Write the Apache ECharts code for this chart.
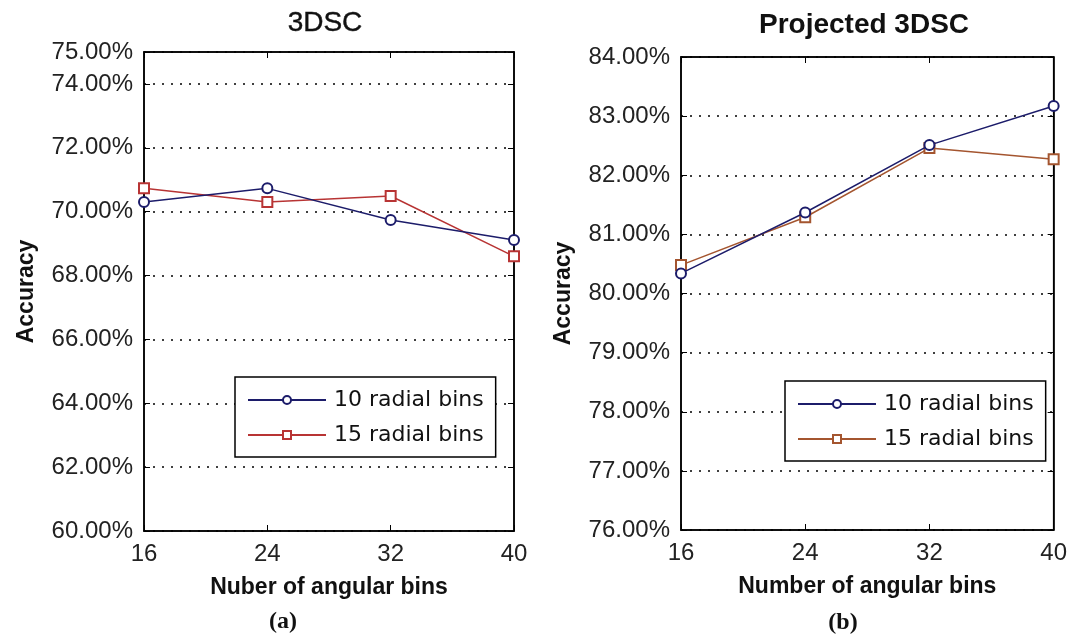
<!DOCTYPE html>
<html>
<head>
<meta charset="utf-8">
<script src="https://cdn.jsdelivr.net/npm/echarts@6/dist/echarts.min.js"></script>
<style>
  html, body { margin: 0; padding: 0; background: #fff; }
  #main { width: 1070px; height: 639px; }
</style>
</head>
<body>
<div id="main"></div>
<script>
var myChart = echarts.init(document.getElementById('main'))

// 数据
var angularBins = [16, 24, 32, 40]
var seriesNames = ['10 radial bins', '15 radial bins']
// (a) 3DSC
var dsc10 = [70.30, 70.73, 69.74, 69.11]
var dsc15 = [70.73, 70.30, 70.49, 68.60]
// (b) Projected 3DSC
var proj10 = [80.34, 81.37, 82.51, 83.17]
var proj15 = [80.48, 81.29, 82.46, 82.27]

var blue = '#1c1c6a'
var redA = '#b83434'
var redB = '#a4552f'

function pairs(ys) {
    return angularBins.map(function (x, i) { return [x, ys[i]] })
}

var tickFont = { color: '#222', fontFamily: 'Liberation Sans', fontSize: 24 }
var nameFont = { color: '#111', fontFamily: 'Liberation Sans', fontSize: 23, fontWeight: 'bold' }

function xAxes(gridIndex, name) {
    return [{
        gridIndex: gridIndex,
        type: 'value', min: 16, max: 40, interval: 8,
        name: name, nameLocation: 'middle', nameGap: 45, nameTextStyle: nameFont,
        axisLine: { lineStyle: { color: '#000', width: 1.5 } },
        axisTick: { inside: true, length: 6, lineStyle: { color: '#000' } },
        axisLabel: Object.assign({ margin: 11 }, tickFont),
        splitLine: { show: false }
    }, {
        gridIndex: gridIndex, position: 'top',
        type: 'value', min: 16, max: 40, interval: 8,
        axisLine: { lineStyle: { color: '#000', width: 1.5 } },
        axisTick: { inside: true, length: 6, lineStyle: { color: '#000' } },
        axisLabel: { show: false },
        splitLine: { show: false }
    }]
}

function yAxes(gridIndex, min, max, step) {
    return [{
        gridIndex: gridIndex,
        type: 'value', min: min, max: max, interval: step,
        name: 'Accuracy', nameLocation: 'middle', nameGap: 106, nameTextStyle: nameFont,
        axisLine: { show: true, lineStyle: { color: '#000', width: 1.5 } },
        axisTick: { show: true, inside: true, length: 6, lineStyle: { color: '#000' } },
        axisLabel: Object.assign({
            margin: 11,
            formatter: function (v) { return v.toFixed(2) + '%' }
        }, tickFont),
        splitLine: { show: true, lineStyle: { color: '#000', width: 1.6, type: [2, 7] } }
    }, {
        gridIndex: gridIndex, position: 'right',
        type: 'value', min: min, max: max, interval: step,
        axisLine: { show: true, lineStyle: { color: '#000', width: 1.5 } },
        axisTick: { show: true, inside: true, length: 6, lineStyle: { color: '#000' } },
        axisLabel: { show: false },
        splitLine: { show: false }
    }]
}

function lineSeries(name, ys, color, symbol, xi, yi) {
    return {
        name: name, type: 'line',
        xAxisIndex: xi, yAxisIndex: yi,
        data: pairs(ys),
        symbol: symbol, symbolSize: 10,
        lineStyle: { color: color, width: 1.5 },
        itemStyle: { color: color, borderColor: color, borderWidth: 1.5 },
        emphasis: { disabled: true },
        z: symbol === 'emptyRect' ? 3 : 4
    }
}

function legendFor(left, top) {
    return {
        orient: 'vertical', left: left, top: top,
        backgroundColor: '#fff', borderColor: '#000', borderWidth: 1.5, borderRadius: 0,
        padding: [10, 12, 9, 12],
        itemWidth: 78, itemHeight: 10, itemGap: 9,
        textStyle: { color: '#111', fontFamily: 'DejaVu Sans', fontSize: 22, lineHeight: 26, padding: [0, 0, 0, 3] },
        selectedMode: false
    }
}

var options = {
    backgroundColor: '#fff',
    animation: false,
    grid: [
        { left: 144, right: 556, top: 52, bottom: 108, show: true, borderColor: '#000', borderWidth: 1.5 },
        { left: 681, right: 15, top: 57, bottom: 109, show: true, borderColor: '#000', borderWidth: 1.5 }
    ],
    legend: [
        Object.assign(legendFor(235, 377), { data: [{ name: seriesNames[0] }, { name: seriesNames[1] }] }),
        Object.assign(legendFor(785, 381), { data: [{ name: 'b10' }, { name: 'b15' }],
            formatter: function (n) { return n === 'b10' ? seriesNames[0] : seriesNames[1] } })
    ],
    xAxis: xAxes(0, 'Nuber of angular bins').concat(xAxes(1, 'Number of angular bins')),
    yAxis: yAxes(0, 60, 75, 2).concat(yAxes(1, 76, 84, 1)),
    series: [
        lineSeries(seriesNames[0], dsc10, blue, 'emptyCircle', 0, 0),
        lineSeries(seriesNames[1], dsc15, redA, 'emptyRect', 0, 0),
        lineSeries('b10', proj10, blue, 'emptyCircle', 2, 2),
        lineSeries('b15', proj15, redB, 'emptyRect', 2, 2)
    ],
    graphic: [
        { type: 'text', x: 325, y: 23, style: { text: '3DSC', align: 'center', verticalAlign: 'middle',
            font: '28px "Liberation Sans"', fill: '#111', stroke: '#111', lineWidth: 0.4 } },
        { type: 'text', x: 864, y: 25, style: { text: 'Projected 3DSC', align: 'center', verticalAlign: 'middle',
            font: 'bold 28px "Liberation Sans"', fill: '#111' } },
        { type: 'text', x: 283, y: 622, style: { text: '(a)', align: 'center', verticalAlign: 'middle',
            font: 'bold 24px "Liberation Serif"', fill: '#111' } },
        { type: 'text', x: 843, y: 623, style: { text: '(b)', align: 'center', verticalAlign: 'middle',
            font: 'bold 24px "Liberation Serif"', fill: '#111' } }
    ]
}

myChart.setOption(options)
</script>
</body>
</html>
